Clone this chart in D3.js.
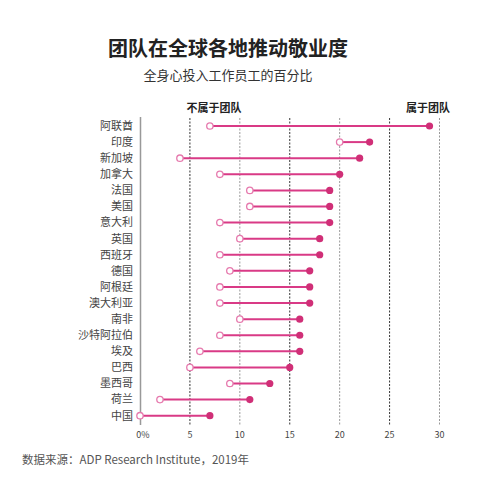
<html>
  <head>
    <style>
      body {
        margin: 0;
        background: #fff;
      }
      text {
        font-family: "Noto Sans CJK SC", "Noto Sans", sans-serif;
      }
    </style>
  </head>
  <body>
    <script src="https://d3js.org/d3.v7.min.js"></script>
    <script>
      var width = 500, height = 492;

      var countries = ["阿联酋", "印度", "新加坡", "加拿大", "法国", "美国", "意大利", "英国", "西班牙", "德国",
        "阿根廷", "澳大利亚", "南非", "沙特阿拉伯", "埃及", "巴西", "墨西哥", "荷兰", "中国"];
      // % fully engaged, not on a team
      var notTeam = [7, 20, 4, 8, 11, 11, 8, 10, 8, 9, 8, 8, 10, 8, 6, 5, 9, 2, 0];
      // % fully engaged, on a team
      var onTeam = [29, 23, 22, 20, 19, 19, 19, 18, 18, 17, 17, 17, 16, 16, 16, 15, 13, 11, 7];
      var ticks = [0, 5, 10, 15, 20, 25, 30];

      var pink = "#d93a86", dark = "#d02f77", light = "#e67aae";

      var rows = countries.map(function(c, i){
        return { name: c, off: notTeam[i], on: onTeam[i] };
      });

      var x = d3.scaleLinear().domain([0, 30]).range([140, 439.5]);
      var y = d3.scalePoint().domain(countries).range([126, 415.7]);

      var svg = d3.select("body").append("svg")
          .attr("width", width)
          .attr("height", height);

      svg.append("text")
          .attr("x", 228).attr("y", 56)
          .attr("text-anchor", "middle")
          .style("font-size", "20px")
          .style("font-weight", "bold")
          .style("fill", "#222")
          .text("团队在全球各地推动敬业度");

      svg.append("text")
          .attr("x", 228).attr("y", 80)
          .attr("text-anchor", "middle")
          .style("font-size", "13px")
          .style("fill", "#333")
          .text("全身心投入工作员工的百分比");

      // grid
      svg.append("g")
          .selectAll("line")
          .data(ticks.slice(1))
        .enter().append("line")
          .attr("x1", function(d){ return x(d); })
          .attr("x2", function(d){ return x(d); })
          .attr("y1", 118)
          .attr("y2", 425)
          .attr("stroke", function(d){ return d % 10 === 5 ? "#333" : "#999"; })
          .attr("stroke-width", 1)
          .attr("stroke-dasharray", "2,1.5");

      // y axis line
      svg.append("line")
          .attr("x1", 140.5).attr("x2", 140.5)
          .attr("y1", 117).attr("y2", 425)
          .attr("stroke", "#999")
          .attr("stroke-width", 1.5);

      svg.append("g")
          .selectAll("text")
          .data(countries)
        .enter().append("text")
          .attr("x", 133)
          .attr("y", function(d){ return y(d); })
          .attr("dy", "0.35em")
          .attr("text-anchor", "end")
          .style("font-size", "11px")
          .style("fill", "#444")
          .text(function(d){ return d; });

      svg.append("g")
          .selectAll("text")
          .data(ticks)
        .enter().append("text")
          .attr("x", function(d){ return x(d) + (d === 0 ? 3 : 0); })
          .attr("y", 438)
          .attr("text-anchor", "middle")
          .style("font-size", "9px")
          .style("fill", "#444")
          .text(function(d){ return d === 0 ? "0%" : d; });

      svg.append("text")
          .attr("x", 214).attr("y", 112)
          .attr("text-anchor", "middle")
          .style("font-size", "11px")
          .style("font-weight", "bold")
          .style("fill", "#222")
          .text("不属于团队");

      svg.append("text")
          .attr("x", 428).attr("y", 112)
          .attr("text-anchor", "middle")
          .style("font-size", "11px")
          .style("font-weight", "bold")
          .style("fill", "#222")
          .text("属于团队");

      var row = svg.append("g")
          .selectAll("g")
          .data(rows)
        .enter().append("g");

      row.append("line")
          .attr("x1", function(d){ return x(d.off); })
          .attr("x2", function(d){ return x(d.on); })
          .attr("y1", function(d){ return y(d.name); })
          .attr("y2", function(d){ return y(d.name); })
          .attr("stroke", pink)
          .attr("stroke-width", 2);

      row.append("circle")
          .attr("cx", function(d){ return x(d.on); })
          .attr("cy", function(d){ return y(d.name); })
          .attr("r", 3.6)
          .attr("fill", dark);

      row.append("circle")
          .attr("cx", function(d){ return x(d.off); })
          .attr("cy", function(d){ return y(d.name); })
          .attr("r", 3.2)
          .attr("fill", "#fff")
          .attr("stroke", light)
          .attr("stroke-width", 1.3);

      svg.append("text")
          .attr("x", 22).attr("y", 464)
          .style("font-size", "11.5px")
          .style("fill", "#555")
          .text("数据来源：ADP Research Institute，2019年");
    </script>
  </body>
</html>
